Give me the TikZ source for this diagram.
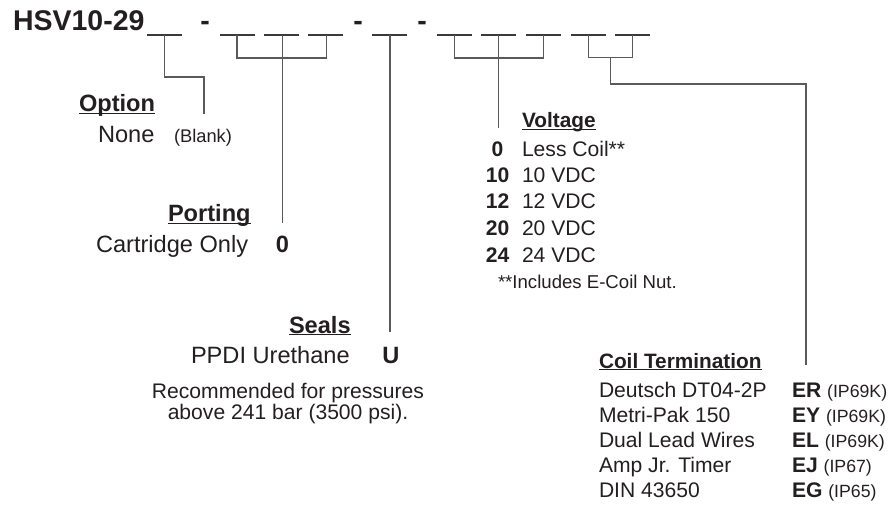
\documentclass[tikz,border=0pt]{standalone}
\usepackage{fontspec}
\setmainfont{Liberation Sans}
\newcommand{\fsz}[1]{\fontsize{#1}{#1}\selectfont}
\newcommand{\hul}[1]{\setbox0\hbox{#1}\rlap{\rule[-2.2pt]{\wd0}{1.4pt}}\box0}
\definecolor{txt}{HTML}{231F20}
\definecolor{ln}{HTML}{5A5A5A}
\definecolor{bl}{HTML}{3A3A3A}
\begin{document}
\begin{tikzpicture}[x=1pt,y=-1pt,
  every node/.style={inner sep=0pt, outer sep=0pt, text=txt},
  lab/.style={anchor=base west},
  ctr/.style={anchor=base},
  title/.style={font=\fsz{28.5}\bfseries},
  head/.style={anchor=base west, font=\fsz{23.6}\bfseries},
  body/.style={anchor=base west, font=\fsz{23.6}},
  bodyb/.style={anchor=base, font=\fsz{23.6}\bfseries},
  vhead/.style={anchor=base west, font=\fsz{20.8}\bfseries},
  vbody/.style={anchor=base west, font=\fsz{21.1}},
  vnum/.style={anchor=base, font=\fsz{21.1}\bfseries},
  small/.style={anchor=base west, font=\fsz{18.3}},
  note/.style={anchor=base, font=\fsz{21.1}},
  blank/.style={draw=bl, line width=1.6pt},
  conn/.style={draw=ln, line width=1.3pt},
]
\useasboundingbox (0,0) rectangle (892,505);

% title and dashes
\node[title, anchor=base west] (ttl) at (13,31) {HSV10-29};
\node[title, ctr] (d1) at (205,31) {-};
\node[title, ctr] (d2) at (358,31) {-};
\node[title, ctr] (d3) at (422,31) {-};

% blanks
\foreach \x in {147,220,264,308,372,437,481,526,571,615}
  \draw[blank] (\x,35) -- ++(35,0);

% coordinates on blanks
\coordinate (b1) at (164.5,35);
\coordinate (b2) at (237,35);
\coordinate (b3) at (282.5,35);
\coordinate (b4) at (326.5,35);
\coordinate (b5) at (390,35);
\coordinate (b6) at (454.5,35);
\coordinate (b7) at (498.5,35);
\coordinate (b8) at (543.5,35);
\coordinate (b9) at (588.5,35);
\coordinate (b10) at (632.5,35);

% connector ends
\coordinate (optE) at (204,114);
\coordinate (porE) at (282.5,223);
\coordinate (selE) at (390,332);
\coordinate (volE) at (498.5,128);
\coordinate (coiE) at (806,365);

% Option connector
\draw[conn] (b1) -- (b1 |- 0,77) -- (optE |- 0,77) -- (optE);
% Porting bracket
\draw[conn] (b2) -- (b2 |- 0,58) -- (b4 |- 0,58) -- (b4);
\draw[conn] (b3) -- (porE);
% Seals
\draw[conn] (b5) -- (selE);
% Voltage bracket
\draw[conn] (b6) -- (b6 |- 0,58) -- (b8 |- 0,58) -- (b8);
\draw[conn] (b7) -- (volE);
% Coil bracket
\draw[conn] (b9) -- (b9 |- 0,57.5) -- (b10 |- 0,57.5) -- (b10);
\coordinate (cc) at (610.5,57.5);
\draw[conn] (cc) -- (cc |- 0,84) -- (coiE |- 0,84) -- (coiE);

% Option
\node[head] (opt) at (79,112) {\hul{Option}};
\node[body] (none) at (98,143) {None};
\node[small] (blk) at (174,143) {(Blank)};

% Porting
\node[head] (por) at (168,222) {\hul{Porting}};
\node[body] (cart) at (96,253) {Cartridge Only};
\node[bodyb] (p0) at (282.5,253) {0};

% Seals
\node[head] (sel) at (289,333) {\hul{Seals}};
\node[body] (ppdi) at (191,363) {PPDI Urethane};
\node[bodyb] (su) at (391,363) {U};
\node[note] (rec1) at (288,398) {Recommended for pressures};
\node[note] (rec2) at (288,419) {above 241 bar (3500 psi).};

% Voltage
\node[vhead] (vol) at (522,128) {\hul{Voltage}};
\node[vnum] (n0) at (497.5,157) {0};
\node[vbody] (t0) at (522,157) {Less Coil**};
\node[vnum] (n10) at (497.5,183) {10};
\node[vbody] (t10) at (522,183) {10 VDC};
\node[vnum] (n12) at (497.5,209) {12};
\node[vbody] (t12) at (522,209) {12 VDC};
\node[vnum] (n20) at (497.5,236) {20};
\node[vbody] (t20) at (522,236) {20 VDC};
\node[vnum] (n24) at (497.5,262) {24};
\node[vbody] (t24) at (522,262) {24 VDC};
\node[anchor=base west, font=\fsz{18.6}] (inc) at (498,288) {**Includes E-Coil Nut.};

% Coil Termination
\node[vhead] (coil) at (599,368) {\hul{Coil Termination}};
\node[vbody] (c1) at (599,397) {Deutsch DT04-2P};
\node[vbody] (c2) at (599,422) {Metri-Pak 150};
\node[vbody] (c3) at (599,447) {Dual Lead Wires};
\node[vbody] (c4) at (599,472) {Amp Jr. Timer};
\node[vbody] (c5) at (599,497) {DIN 43650};
\node[vbody] (k1) at (792,397) {\textbf{ER} {\fsz{17.7}(IP69K)}};
\node[vbody] (k2) at (792,422) {\textbf{EY} {\fsz{17.7}(IP69K)}};
\node[vbody] (k3) at (792,447) {\textbf{EL} {\fsz{17.7}(IP69K)}};
\node[vbody] (k4) at (792,472) {\textbf{EJ} {\fsz{17.7}(IP67)}};
\node[vbody] (k5) at (792,497) {\textbf{EG} {\fsz{17.7}(IP65)}};
\end{tikzpicture}
\end{document}
